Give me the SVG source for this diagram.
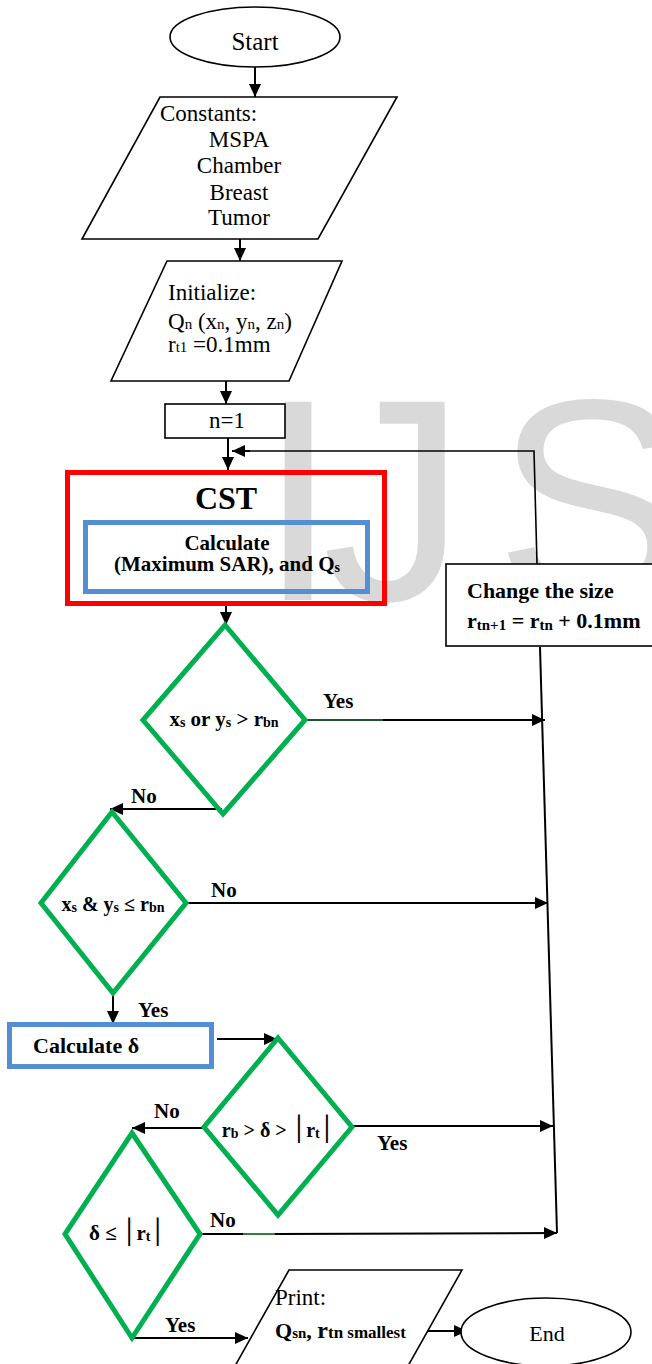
<svg xmlns="http://www.w3.org/2000/svg" width="652" height="1364" viewBox="0 0 652 1364">
<defs>
<marker id="ah" markerWidth="13" markerHeight="12" refX="13" refY="6" orient="auto" markerUnits="userSpaceOnUse"><path d="M0,0 L13,6 L0,12 z" fill="#000"/></marker>
<style>
.t{font-family:"Liberation Serif","Times New Roman",serif;fill:#000}
.n{font-size:23px}
.b{font-size:21px;font-weight:bold}
.sh{fill:#fff;stroke:#000;stroke-width:1.6}
.dm{fill:none;stroke:#00B050;stroke-width:5;stroke-linejoin:miter}
.c{fill:none;stroke:#000;stroke-width:2}
.ca{fill:none;stroke:#000;stroke-width:2;marker-end:url(#ah)}
.bar{font-family:"DejaVu Sans",sans-serif;font-weight:normal;font-size:24px}
</style>
</defs>
<rect width="652" height="1364" fill="#fff"/>
<text id="watermark" x="258 322 495" y="600" font-family="Liberation Sans, Arial, sans-serif" font-size="288" fill="#d9d9d9">IJS</text>

<g id="connectors">
<path class="ca" d="M255,67 V97"/>
<path class="ca" d="M240,239 V261"/>
<path class="ca" d="M226,381 V404"/>
<path class="ca" d="M228,438 V470"/>
<path class="ca" d="M226,606 V625"/>
<path class="c" d="M557,1233 L540,647" stroke-width="1.6"/>
<path fill="none" stroke="#000" stroke-width="1.6" d="M537,564 L534,451 H245"/>
<path class="ca" d="M250,451 H232"/>
<path fill="none" stroke="#1e5631" stroke-width="2" d="M305,720 H383"/>
<path class="ca" d="M383,720 H545"/>
<path class="ca" d="M222,809 H110"/>
<path class="ca" d="M186,903 H548"/>
<path class="ca" d="M113,993 V1024"/>
<path class="ca" d="M217,1039 H277"/>
<path class="ca" d="M204,1128 H132"/>
<path class="ca" d="M352,1126 H553"/>
<path fill="none" stroke="#000" stroke-width="2" d="M200,1234 H243"/>
<path fill="none" stroke="#2f8040" stroke-width="2" d="M243,1234 H275"/>
<path class="ca" d="M275,1234 L557,1233"/>
<path class="ca" d="M132,1338 H248"/>
<path class="ca" d="M423,1331 H467" stroke-width="3"/>
<text class="t b" x="323" y="708">Yes</text>
<text class="t b" x="131" y="803">No</text>
<text class="t b" x="211" y="897">No</text>
<text class="t b" x="138" y="1017">Yes</text>
<text class="t b" x="154" y="1118">No</text>
<text class="t b" x="377" y="1150">Yes</text>
<text class="t b" x="210" y="1227">No</text>
<text class="t b" x="165" y="1332">Yes</text>
</g>

<g id="start">
<ellipse cx="255" cy="37" rx="85" ry="30" class="sh"/>
<text class="t" font-size="25" x="255" y="50" text-anchor="middle">Start</text>
</g>

<g id="constants">
<polygon class="sh" points="160,97 397,97 318,239 82,239"/>
<text class="t n" x="160" y="121">Constants:</text>
<text class="t n" x="239" y="147" text-anchor="middle">MSPA</text>
<text class="t n" x="239" y="173" text-anchor="middle">Chamber</text>
<text class="t n" x="239" y="200" text-anchor="middle">Breast</text>
<text class="t n" x="239" y="225" text-anchor="middle">Tumor</text>
</g>

<g id="initialize">
<polygon class="sh" points="167,261 342,261 289,381 111,381"/>
<text class="t n" x="168" y="300">Initialize:</text>
<text class="t n" x="168" y="329">Q<tspan font-size="15">n</tspan> (x<tspan font-size="15">n</tspan>, y<tspan font-size="15">n</tspan>, z<tspan font-size="15">n</tspan>)</text>
<text class="t n" x="168" y="352">r<tspan font-size="15">t1</tspan> =0.1mm</text>
</g>

<g id="n1">
<rect x="165" y="404" width="120" height="34" class="sh"/>
<text class="t n" x="227" y="428" text-anchor="middle">n=1</text>
</g>

<g id="cst">
<rect x="67.5" y="472.5" width="317" height="131" fill="none" stroke="#ff0000" stroke-width="5"/>
<text class="t" font-size="32" font-weight="bold" x="226" y="509" text-anchor="middle">CST</text>
<rect x="85.5" y="522.5" width="282" height="69" fill="none" stroke="#558ed5" stroke-width="5"/>
<text class="t" font-size="21" font-weight="bold" x="227" y="550" text-anchor="middle">Calculate</text>
<text class="t" font-size="21" font-weight="bold" x="227" y="571" text-anchor="middle">(Maximum SAR), and Q<tspan font-size="14" dy="1">s</tspan></text>
</g>

<g id="change-size">
<rect x="446" y="564" width="220" height="82" class="sh"/>
<text class="t" font-size="22" font-weight="bold" x="467" y="598">Change the size</text>
<text class="t" font-size="22" font-weight="bold" x="467" y="628">r<tspan font-size="15" dy="2">tn+1</tspan><tspan dy="-2"> = r</tspan><tspan font-size="15" dy="2">tn</tspan><tspan dy="-2"> + 0.1mm</tspan></text>
</g>

<g id="decision1">
<polygon class="dm" points="225,625 305,720 223,814 143,720"/>
<text class="t" font-size="21" font-weight="bold" x="224" y="726" text-anchor="middle">x<tspan font-size="14" dy="1">s</tspan><tspan dy="-1"> or y</tspan><tspan font-size="14" dy="1">s</tspan><tspan dy="-1"> &gt;  r</tspan><tspan font-size="14" dy="1">bn</tspan></text>
</g>

<g id="decision2">
<polygon class="dm" points="112,812 186,903 113,993 41,903"/>
<text class="t" font-size="20" font-weight="bold" x="113" y="911" text-anchor="middle">x<tspan font-size="14" dy="1">s</tspan><tspan dy="-1"> &amp; y</tspan><tspan font-size="14" dy="1">s</tspan><tspan dy="-1"> ≤ r</tspan><tspan font-size="14" dy="1">bn</tspan></text>
</g>

<g id="calc-delta">
<rect x="9.5" y="1024.5" width="202" height="42" fill="#fff" stroke="#558ed5" stroke-width="5"/>
<text class="t" font-size="22" font-weight="bold" x="33" y="1053">Calculate δ</text>
</g>

<g id="decision3">
<polygon class="dm" points="278,1038 352,1127 278,1215 204,1127"/>
<text class="t" font-size="20" font-weight="bold" x="278" y="1137" text-anchor="middle">r<tspan font-size="14" dy="1">b</tspan><tspan dy="-1"> &gt; δ &gt; </tspan><tspan class="bar">│</tspan>r<tspan font-size="14" dy="1">t</tspan><tspan dy="-1" class="bar">│</tspan></text>
</g>

<g id="decision4">
<polygon class="dm" points="132,1133 200,1234 132,1338 65,1234"/>
<text class="t" font-size="21" font-weight="bold" x="127" y="1240" text-anchor="middle">δ ≤ <tspan class="bar">│</tspan>r<tspan font-size="14" dy="1">t</tspan><tspan dy="-1" class="bar">│</tspan></text>
</g>

<g id="print">
<polygon class="sh" points="289,1270 462,1270 408,1366 235,1366"/>
<text class="t n" x="275" y="1305">Print:</text>
<text class="t" font-weight="bold" font-size="22" x="275" y="1338">Q<tspan font-size="15">sn</tspan>, <tspan font-size="24">r</tspan><tspan font-size="17">tn smallest</tspan></text>
</g>

<g id="end">
<ellipse cx="546" cy="1332" rx="85" ry="34" class="sh"/>
<text class="t" font-size="22" x="547" y="1341" text-anchor="middle">End</text>
</g>
</svg>
